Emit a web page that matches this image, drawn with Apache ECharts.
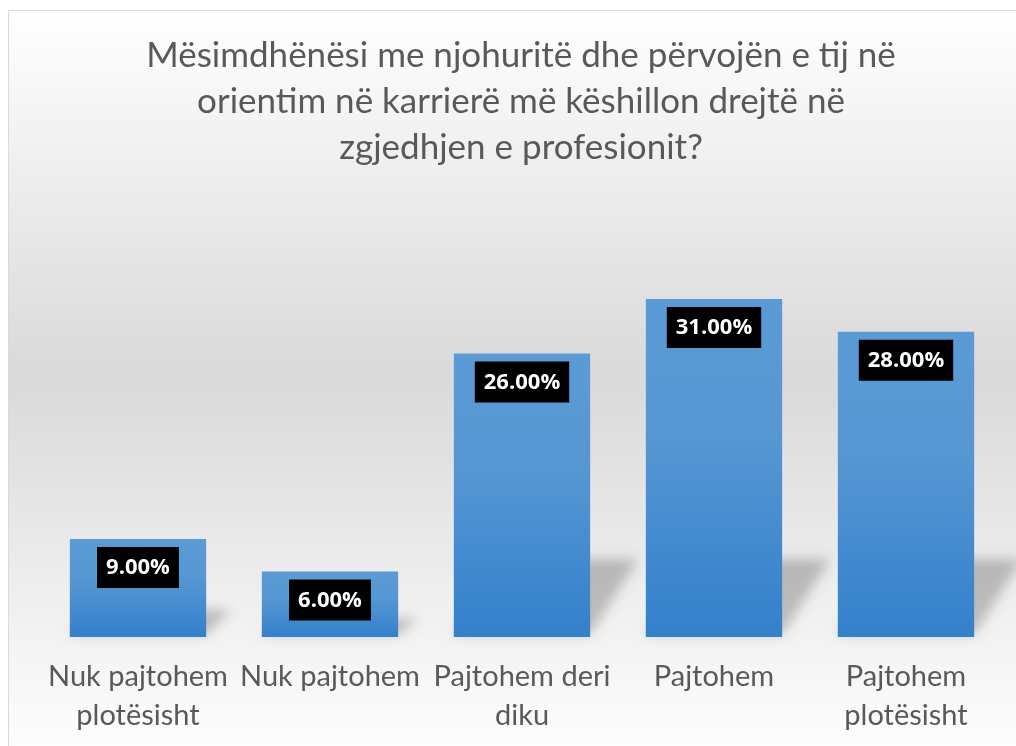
<!DOCTYPE html>
<html>
<head>
<meta charset="utf-8">
<script src="https://cdn.jsdelivr.net/npm/echarts@6/dist/echarts.min.js"></script>
<style>
  html, body { margin: 0; padding: 0; background: #fff; }
  #chart { width: 1016px; height: 746px; }
</style>
</head>
<body>
<div id="chart"></div>
<script>
// të dhënat e grafikut
const titleText = "Mësimdhënësi me njohuritë dhe përvojën e tij në\norientim në karrierë më këshillon drejtë në\nzgjedhjen e profesionit?";
const categories = [
  "Nuk pajtohem\nplotësisht",
  "Nuk pajtohem",
  "Pajtohem deri\ndiku",
  "Pajtohem",
  "Pajtohem\nplotësisht"
];
const values = [9, 6, 26, 31, 28];

const myChart = echarts.init(document.getElementById("chart"));

// hija prapa shtyllave (perspektivë) - forma vizatohet jashtë ekranit,
// vetëm hija e turbullt e saj kthehet në vend
const SHIFT = 3000;
function renderShadow(params, api) {
  const idx = api.value(0);
  const top = api.coord([idx, api.value(1)]);
  const base = api.coord([idx, 0]);
  const size = api.size([1, 0]);
  const barW = size[0] * 0.71;
  const left = base[0] - barW / 2;
  const right = base[0] + barW / 2;
  const h = base[1] - top[1];
  const dh = Math.min(h * 0.28, 78);
  const dx = Math.min(dh * 0.55 + 10, 48);
  return {
    type: "polygon",
    shape: {
      points: [
        [left - SHIFT, base[1] - 2],
        [right - SHIFT, base[1] - 2],
        [right + dx - SHIFT, base[1] - dh],
        [left + dx - SHIFT, base[1] - dh]
      ]
    },
    style: {
      fill: "#000",
      shadowBlur: 12,
      shadowOffsetX: SHIFT,
      shadowColor: "rgba(0,0,0,0.22)"
    }
  };
}

const option = {
  backgroundColor: "#fff",
  animation: false,
  graphic: [
    {
      type: "rect",
      z: -10,
      shape: { x: 8.5, y: 10.5, width: 1020, height: 760 },
      style: {
        stroke: "#d9d9d9",
        lineWidth: 1,
        fill: new echarts.graphic.LinearGradient(0, 0, 0, 1, [
          { offset: 0, color: "#ffffff" },
          { offset: 0.48, color: "#d9d9d9" },
          { offset: 0.84, color: "#f4f4f4" },
          { offset: 1, color: "#ffffff" }
        ])
      }
    }
  ],
  title: {
    text: titleText,
    left: 516,
    textAlign: "center",
    top: 28,
    textStyle: {
      fontFamily: "Lato",
      fontWeight: "normal",
      fontSize: 35,
      lineHeight: 46,
      color: "#595959"
    }
  },
  grid: {
    left: 42,
    right: 14,
    top: 255.5,
    bottom: 109,
    containLabel: false
  },
  xAxis: {
    type: "category",
    data: categories,
    axisLine: { show: false },
    axisTick: { show: false },
    axisLabel: {
      interval: 0,
      margin: 20,
      fontFamily: "Lato",
      fontSize: 29,
      lineHeight: 39,
      color: "#595959"
    }
  },
  yAxis: {
    type: "value",
    min: 0,
    max: 35,
    show: false,
    splitLine: { show: false }
  },
  series: [
    {
      type: "custom",
      renderItem: renderShadow,
      data: values.map((v, i) => [i, v]),
      silent: true,
      clip: false,
      z: 1
    },
    {
      type: "bar",
      data: values,
      barCategoryGap: "29%",
      z: 2,
      itemStyle: {
        color: new echarts.graphic.LinearGradient(0, 0, 0, 1, [
          { offset: 0, color: "#5b9bd5" },
          { offset: 0.4, color: "#5697d4" },
          { offset: 1, color: "#3380cb" }
        ])
      },
      label: {
        show: true,
        position: "insideTop",
        distance: 8,
        formatter: p => p.value.toFixed(2) + "%",
        backgroundColor: "#000",
        padding: [10, 9, 9, 9],
        color: "#fff",
        fontFamily: "Open Sans",
        fontWeight: "bold",
        fontSize: 22
      }
    }
  ]
};

myChart.setOption(option);
</script>
</body>
</html>
